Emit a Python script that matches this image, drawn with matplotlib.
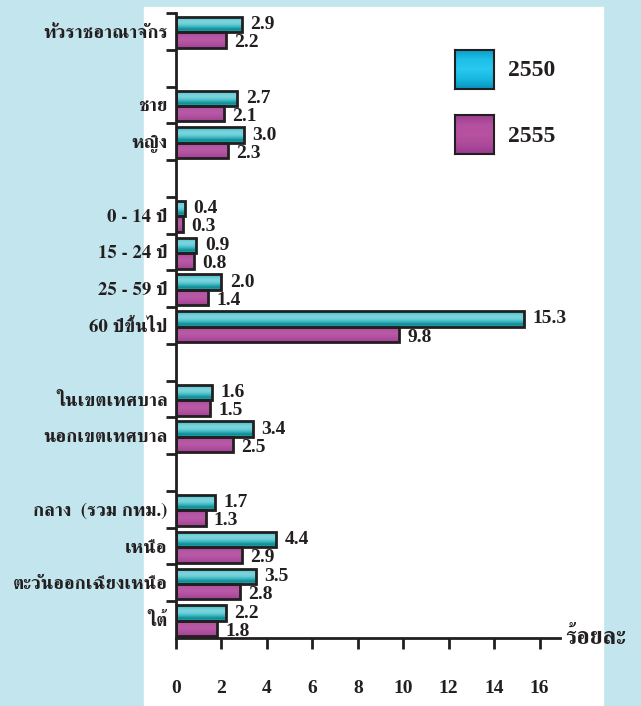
import numpy as np
import matplotlib.pyplot as plt
from matplotlib.colors import LinearSegmentedColormap
from matplotlib.patches import Rectangle

labels = ['ทั่วราชอาณาจักร', '', 'ชาย', 'หญิง', '',
          '0 - 14 ปี', '15 - 24 ปี', '25 - 59 ปี', '60 ปีขึ้นไป', '',
          'ในเขตเทศบาล', 'นอกเขตเทศบาล', '',
          'กลาง  (รวม กทม.)', 'เหนือ', 'ตะวันออกเฉียงเหนือ', 'ใต้']
v2550 = [2.9, None, 2.7, 3.0, None, 0.4, 0.9, 2.0, 15.3, None, 1.6, 3.4, None, 1.7, 4.4, 3.5, 2.2]
v2555 = [2.2, None, 2.1, 2.3, None, 0.3, 0.8, 1.4, 9.8, None, 1.5, 2.5, None, 1.3, 2.9, 2.8, 1.8]
years = ['2550', '2555']
xticks = [0, 2, 4, 6, 8, 10, 12, 14, 16]
xlabel = 'ร้อยละ'

num_font = 'Liberation Serif'
thai_family = ['FreeSerif', 'Liberation Serif', 'DejaVu Sans']
ink = '#231f20'

# vertical shading of the bars, top -> bottom
cyan_bar = LinearSegmentedColormap.from_list('cb', ['#2fb4bf', '#5ec9d2', '#7dd5dd', '#6fcfd8', '#3ab7c1', '#0f8a92', '#2ba9b3'])
mag_bar = LinearSegmentedColormap.from_list('mb', ['#a2449a', '#b555a3', '#b85aa6', '#b04e9e', '#a04296'])
cyan_box = LinearSegmentedColormap.from_list('cx', ['#0a9cc4', '#1dbfe8', '#28c8f0', '#18b8e2', '#0794bc'])
mag_box = LinearSegmentedColormap.from_list('mx', ['#9c3d90', '#b4509f', '#b7529f', '#ad4b9b', '#9a3b8e'])
grad = np.linspace(0, 1, 64)[:, None]

W, H = 641, 706
fig = plt.figure(figsize=(W / 100, H / 100), dpi=100)
fig.patch.set_facecolor('#c3e6ee')
fig.add_artist(Rectangle((144 / W, 0), (603 - 144) / W, (H - 7) / H,
                         transform=fig.transFigure, color='white', zorder=0))

ax = fig.add_axes([176 / W, 68 / H, 384 / W, 625 / H])
ax.patch.set_alpha(0)

def draw_bars(vals, off, cmap):
  idx = [i for i, v in enumerate(vals) if v is not None]
  vv = [vals[i] for i in idx]
  bars = ax.barh(np.array(idx) + off, vv, height=0.42, facecolor='none',
                 edgecolor=ink, linewidth=2, zorder=3)
  for p in bars:
    x0, y0, w, h = p.get_x(), p.get_y(), p.get_width(), p.get_height()
    im = ax.imshow(grad, cmap=cmap, extent=[x0, x0 + w, y0 + h, y0],
                   aspect='auto', zorder=2, interpolation='bilinear')
    im.set_clip_path(p)
  for i, v in zip(idx, vv):
    ax.annotate(f'{v:.1f}', xy=(v, i + off), xytext=(6, 0 if off < 0.5 else -2),
                textcoords='offset points', va='center', ha='left',
                fontsize=14, fontweight='bold', family=num_font, color=ink)

draw_bars(v2550, 0.32, cyan_bar)
draw_bars(v2555, 0.74, mag_bar)

ax.set_xlim(0, 16.9)
ax.set_ylim(len(labels), 0)
for s in ['top', 'right']:
  ax.spines[s].set_visible(False)
for s in ['left', 'bottom']:
  ax.spines[s].set_linewidth(2)
  ax.spines[s].set_color(ink)

ax.set_yticks(range(len(labels)))
ax.set_yticklabels([])
ax.tick_params(axis='y', which='major', length=7, width=2, color=ink)
ax.set_yticks(np.arange(len(labels)) + 0.5, minor=True)
ax.set_yticklabels(labels, minor=True, fontsize=13.5, fontweight='bold',
                   family=thai_family, color=ink)
ax.tick_params(axis='y', which='minor', length=0, pad=6)

ax.set_xticks(xticks)
ax.set_xticklabels([str(t) for t in xticks], fontsize=14, fontweight='bold',
                   family=num_font, color=ink)
ax.tick_params(axis='x', length=8, width=2, color=ink, pad=22)

ax.annotate(xlabel, xy=(1, 0), xycoords='axes fraction', xytext=(4, 0),
            textcoords='offset points', va='center', ha='left', fontsize=17,
            fontweight='bold', family=thai_family, color=ink)

# legend boxes
for k, (yr, cm) in enumerate(zip(years, [cyan_box, mag_box])):
  top = 50 + k * 65
  lax = fig.add_axes([455 / W, (H - top - 39) / H, 39 / W, 39 / H])
  lax.imshow(grad, cmap=cm, aspect='auto', interpolation='bilinear')
  lax.set_xticks([])
  lax.set_yticks([])
  for s in lax.spines.values():
    s.set_linewidth(1.5)
    s.set_color(ink)
  fig.text(508 / W, (H - top - 21) / H, yr, va='center', ha='left', fontsize=17,
           fontweight='bold', family=num_font, color=ink)

fig.savefig('out.png', dpi=100)
